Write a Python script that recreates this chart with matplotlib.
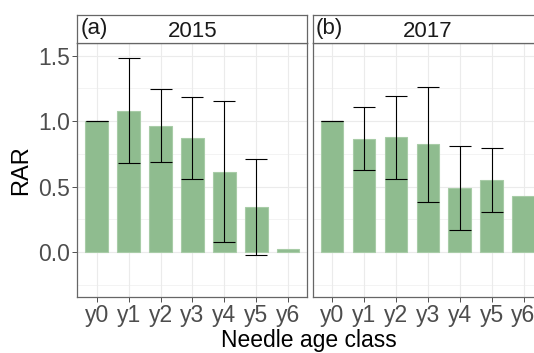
import numpy as np
import matplotlib.pyplot as plt
from matplotlib.ticker import MultipleLocator

plt.rcParams['font.family'] = ['Liberation Sans', 'DejaVu Sans']

# RAR by needle age class, mean with lower/upper error limits
classes = ['y0', 'y1', 'y2', 'y3', 'y4', 'y5', 'y6']
panels = ['(a)', '(b)']
years = ['2015', '2017']

rar_2015 = [1.00, 1.08, 0.967, 0.875, 0.615, 0.344, 0.028]
low_2015 = [1.00, 0.682, 0.687, 0.562, 0.081, -0.023, np.nan]
high_2015 = [1.00, 1.481, 1.247, 1.186, 1.153, 0.715, np.nan]

rar_2017 = [1.00, 0.867, 0.878, 0.824, 0.493, 0.55, 0.427]
low_2017 = [1.00, 0.628, 0.557, 0.386, 0.170, 0.308, np.nan]
high_2017 = [1.00, 1.107, 1.196, 1.264, 0.814, 0.796, np.nan]

means = [rar_2015, rar_2017]
lows = [low_2015, low_2017]
highs = [high_2015, high_2017]

bar_col = '#8FBC8F'
frame_col = '#666666'
tick_col = '#4D4D4D'

fig = plt.figure(figsize=(5.34, 3.53), dpi=100)

lefts = [0.1451, 0.5856]
width = 0.4307
bottom, height = 0.1595, 0.7178
strip_h = 0.0811

x = np.arange(len(classes))
for k in range(2):
    ax = fig.add_axes([lefts[k], bottom, width, height])
    m = np.array(means[k])
    lo = np.array(lows[k])
    hi = np.array(highs[k])

    ax.bar(x, m, width=0.7, color=bar_col, edgecolor='#A8CCA7',
           linewidth=0.8, zorder=2)
    ok = ~np.isnan(lo)
    ax.errorbar(x[ok], m[ok], yerr=[m[ok] - lo[ok], hi[ok] - m[ok]],
                fmt='none', ecolor='black', elinewidth=0.8, capsize=8,
                capthick=0.8, zorder=3)

    ax.set_xlim(-0.6, len(classes) - 0.4)
    ax.set_ylim(-0.34, 1.595)
    ax.set_xticks(x)
    ax.set_xticklabels(classes)
    ax.yaxis.set_major_locator(MultipleLocator(0.5))
    ax.yaxis.set_minor_locator(MultipleLocator(0.25))
    ax.yaxis.set_major_formatter(plt.FormatStrFormatter('%.1f'))

    ax.grid(True, which='major', color='#EBEBEB', linewidth=0.8, zorder=0)
    ax.grid(True, which='minor', axis='y', color='#EBEBEB', linewidth=0.4,
            zorder=0)
    ax.set_axisbelow(True)

    ax.tick_params(axis='both', which='major', labelsize=16.5,
                   labelcolor=tick_col, color='#333333', length=3.5,
                   width=0.6, pad=2)
    ax.tick_params(axis='y', which='minor', length=0)
    if k == 1:
        ax.tick_params(axis='y', labelleft=False, length=0)
    for s in ax.spines.values():
        s.set_color(frame_col)
        s.set_linewidth(0.9)

    # facet strip
    sax = fig.add_axes([lefts[k], bottom + height, width, strip_h])
    sax.set_xticks([])
    sax.set_yticks([])
    for s in sax.spines.values():
        s.set_color(frame_col)
        s.set_linewidth(0.9)
    sax.text(0.5, 0.42, years[k], ha='center', va='center', fontsize=16,
             color='#1A1A1A', transform=sax.transAxes)
    sax.text(0.012, 0.5, panels[k], ha='left', va='center', fontsize=16,
             color='#1A1A1A', transform=sax.transAxes)

    if k == 0:
        ax.set_ylabel('RAR', fontsize=17, labelpad=4)

fig.text(0.578, 0.034, 'Needle age class', ha='center', va='center',
         fontsize=16.5)

fig.savefig('out.png', dpi=100)
